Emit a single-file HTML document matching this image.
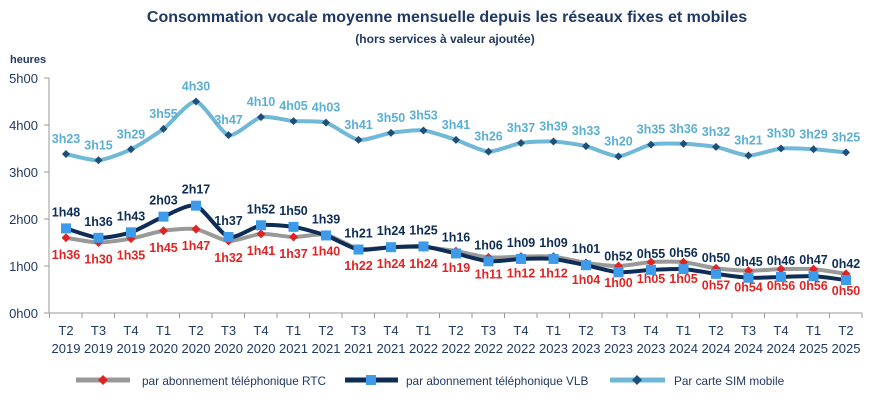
<!DOCTYPE html><html><head><meta charset="utf-8"><style>
body{margin:0;background:#fff;width:874px;height:404px;overflow:hidden}
svg{font-family:"Liberation Sans",sans-serif;font-weight:bold}
</style></head><body>
<svg id="s" width="874" height="404" xmlns="http://www.w3.org/2000/svg">
<text x="447" y="22" text-anchor="middle" font-size="16" fill="#1F3864">Consommation vocale moyenne mensuelle depuis les réseaux fixes et mobiles</text>
<text x="445" y="43" text-anchor="middle" font-size="12" fill="#1F3864">(hors services à valeur ajoutée)</text>
<text x="10" y="63" font-size="11" fill="#1F3864">heures</text>
</svg>
<script>
const s=document.getElementById('s'),NS='http://www.w3.org/2000/svg';
function el(t,a,txt){const e=document.createElementNS(NS,t);for(const k in a)e.setAttribute(k,a[k]);if(txt!==undefined)e.textContent=txt;s.appendChild(e);return e;}
const X0=66,DX=32.5,Y0=313,H=47;
const px=i=>X0+i*DX, py=m=>Y0-m/60*H;
const p=a=>a.map(v=>{const[h,m]=v.split('h');return +h*60+ +m;});
const sim=p("3h23,3h15,3h29,3h55,4h30,3h47,4h10,4h05,4h03,3h41,3h50,3h53,3h41,3h26,3h37,3h39,3h33,3h20,3h35,3h36,3h32,3h21,3h30,3h29,3h25".split(','));
const vlb=p("1h48,1h36,1h43,2h03,2h17,1h37,1h52,1h50,1h39,1h21,1h24,1h25,1h16,1h06,1h09,1h09,1h01,0h52,0h55,0h56,0h50,0h45,0h46,0h47,0h42".split(','));
const rtc=p("1h36,1h30,1h35,1h45,1h47,1h32,1h41,1h37,1h40,1h22,1h24,1h24,1h19,1h11,1h12,1h12,1h04,1h00,1h05,1h05,0h57,0h54,0h56,0h56,0h50".split(','));
const fmt=m=>Math.floor(m/60)+'h'+String(m%60).padStart(2,'0');
el('line',{x1:49,y1:78,x2:49,y2:Y0,stroke:'#999','stroke-width':1});
el('line',{x1:49,y1:Y0,x2:862,y2:Y0,stroke:'#999','stroke-width':1});
for(let h=0;h<=5;h++){const y=Y0-h*H;el('line',{x1:44,y1:y,x2:49,y2:y,stroke:'#999'});el('text',{x:38,y:y+5,'text-anchor':'end','font-size':13,fill:'#1F3864','font-weight':'normal'},h+'h00');}
const cats=[];let q=2,yr=2019;for(let i=0;i<25;i++){cats.push(['T'+q,yr]);q++;if(q>4){q=1;yr++;}}
for(let i=0;i<=25;i++){const x=49.5+i*DX;el('line',{x1:x,y1:Y0,x2:x,y2:Y0+5,stroke:'#999'});}
cats.forEach((c,i)=>{el('text',{x:px(i),y:335,'text-anchor':'middle','font-size':13,fill:'#1F3864','font-weight':'normal'},c[0]);el('text',{x:px(i),y:353,'text-anchor':'middle','font-size':13,fill:'#1F3864','font-weight':'normal'},c[1]);});
function path(d){const P=d.map((v,i)=>[px(i),py(v)]);let s='M'+P[0];for(let i=0;i<P.length-1;i++){const a=P[i-1]||P[i],b=P[i],c=P[i+1],e=P[i+2]||c;const t=9;s+=` C${b[0]+(c[0]-a[0])/t},${b[1]+(c[1]-a[1])/t} ${c[0]-(e[0]-b[0])/t},${c[1]-(e[1]-b[1])/t} ${c[0]},${c[1]}`;}return s;}
function dia(x,y,r,f){el('path',{d:`M${x},${y-r}L${x+r},${y}L${x},${y+r}L${x-r},${y}Z`,fill:f});}
function sq(x,y,r,f){el('rect',{x:x-r,y:y-r,width:2*r,height:2*r,fill:f});}
el('path',{d:path(rtc),fill:'none',stroke:'#999','stroke-width':4});
el('path',{d:path(vlb),fill:'none',stroke:'#0E2D56','stroke-width':4});
el('path',{d:path(sim),fill:'none',stroke:'#6FB8D8','stroke-width':4});
rtc.forEach((v,i)=>{dia(px(i),py(v),4.5,'#E02424');el('text',{x:px(i),y:py(v)+21,'text-anchor':'middle','font-size':12.5,fill:'#E02424'},fmt(v));});
vlb.forEach((v,i)=>{sq(px(i),py(v),5,'#3D9BE9');el('text',{x:px(i),y:py(v)-12,'text-anchor':'middle','font-size':12.5,fill:'#0E2D56'},fmt(v));});
sim.forEach((v,i)=>{dia(px(i),py(v),4,'#1F4E79');el('text',{x:px(i),y:py(v)-11,'text-anchor':'middle','font-size':12.5,fill:'#5BAFD4'},fmt(v));});
el('line',{x1:76,y1:380,x2:130,y2:380,stroke:'#999','stroke-width':5});dia(103,380,5,'#E02424');
el('text',{x:142,y:385,'font-size':11.8,fill:'#1F3864','font-weight':'normal'},'par abonnement téléphonique RTC');
el('line',{x1:345,y1:380,x2:398,y2:380,stroke:'#0E2D56','stroke-width':5});sq(371,380,5,'#3D9BE9');
el('text',{x:406,y:385,'font-size':11.8,fill:'#1F3864','font-weight':'normal'},'par abonnement téléphonique VLB');
el('line',{x1:610,y1:380,x2:665,y2:380,stroke:'#6FB8D8','stroke-width':5});dia(637,380,5,'#1F4E79');
el('text',{x:674,y:385,'font-size':11.8,fill:'#1F3864','font-weight':'normal'},'Par carte SIM mobile');
</script>
</body></html>
